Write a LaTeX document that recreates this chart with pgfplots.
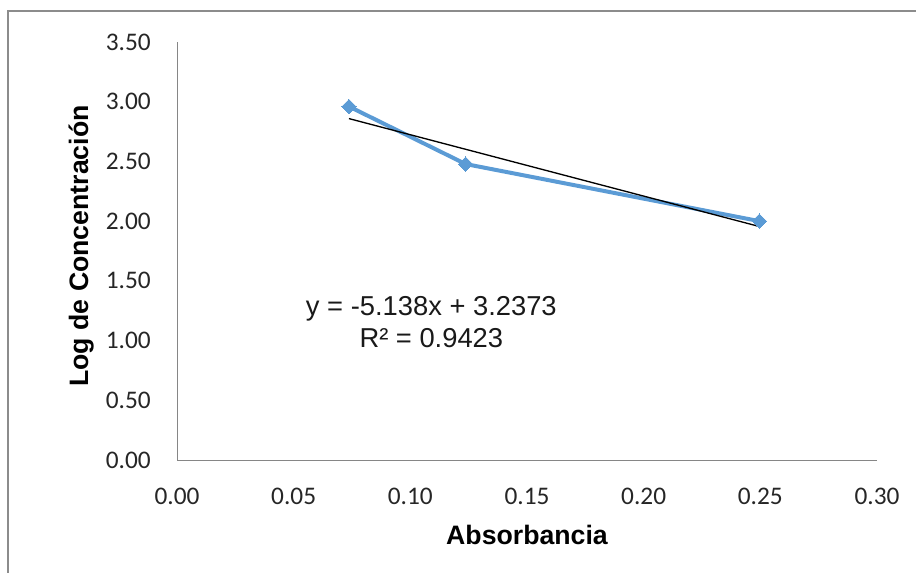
\documentclass[border=0pt]{standalone}
\usepackage{fontspec}
\setmainfont{Liberation Sans}
\newfontfamily\tickfont{Carlito}
\usepackage{pgfplots}
\pgfplotsset{compat=1.18}
\definecolor{excelblue}{RGB}{91,155,213}
\definecolor{axgray}{RGB}{134,134,134}
\definecolor{framegray}{RGB}{140,140,140}
\begin{document}
\begin{tikzpicture}[x=1pt,y=1pt]
\useasboundingbox (0,0) rectangle (687,-429.75);
\draw[framegray, line width=0.9pt] (6,-429.75) -- (6,-8.25) -- (687,-8.25);
\begin{axis}[
  at={(132.75pt,-345pt)}, anchor=south west,
  scale only axis, width=525pt, height=313.5pt,
  xmin=0, xmax=0.30, ymin=0, ymax=3.5,
  axis x line*=bottom, axis y line*=left,
  axis line style={-, draw=axgray, line width=0.75pt},
  xtick={0,0.05,0.10,0.15,0.20,0.25,0.30},
  xticklabels={0.00,0.05,0.10,0.15,0.20,0.25,0.30},
  ytick={0,0.5,1,1.5,2,2.5,3,3.5},
  yticklabels={0.00,0.50,1.00,1.50,2.00,2.50,3.00,3.50},
  major tick length=0pt,
  tick label style={font=\tickfont\fontsize{19}{21}\selectfont, text=black!85, inner sep=0pt},
  xticklabel style={anchor=north, yshift=-21pt},
  yticklabel style={anchor=east, xshift=-19.5pt},
  xlabel={Absorbancia},
  ylabel={Log de Concentración},
  label style={font=\bfseries\fontsize{20}{23}\selectfont, inner sep=0pt},
  xlabel style={at={(axis description cs:0.5,0)}, anchor=center, yshift=-56pt},
  ylabel style={at={(axis description cs:-0.137,0.512)}, anchor=center},
  clip=false,
]
\addplot[excelblue, line width=3pt, mark=square*, mark size=3.8pt,
  mark options={rotate=45, fill=excelblue, draw=excelblue, line width=0pt}]
  coordinates {(0.0737,2.96) (0.1237,2.478) (0.2496,2.00)};
\addplot[black, line width=1pt] coordinates {(0.0737,2.8586) (0.2496,1.9549)};
\node[align=center, font=\fontsize{20.5}{24}\selectfont, text=black!90] at (axis cs:0.109,1.155)
  {y = -5.138x + 3.2373\\R² = 0.9423};
\end{axis}
\end{tikzpicture}
\end{document}
